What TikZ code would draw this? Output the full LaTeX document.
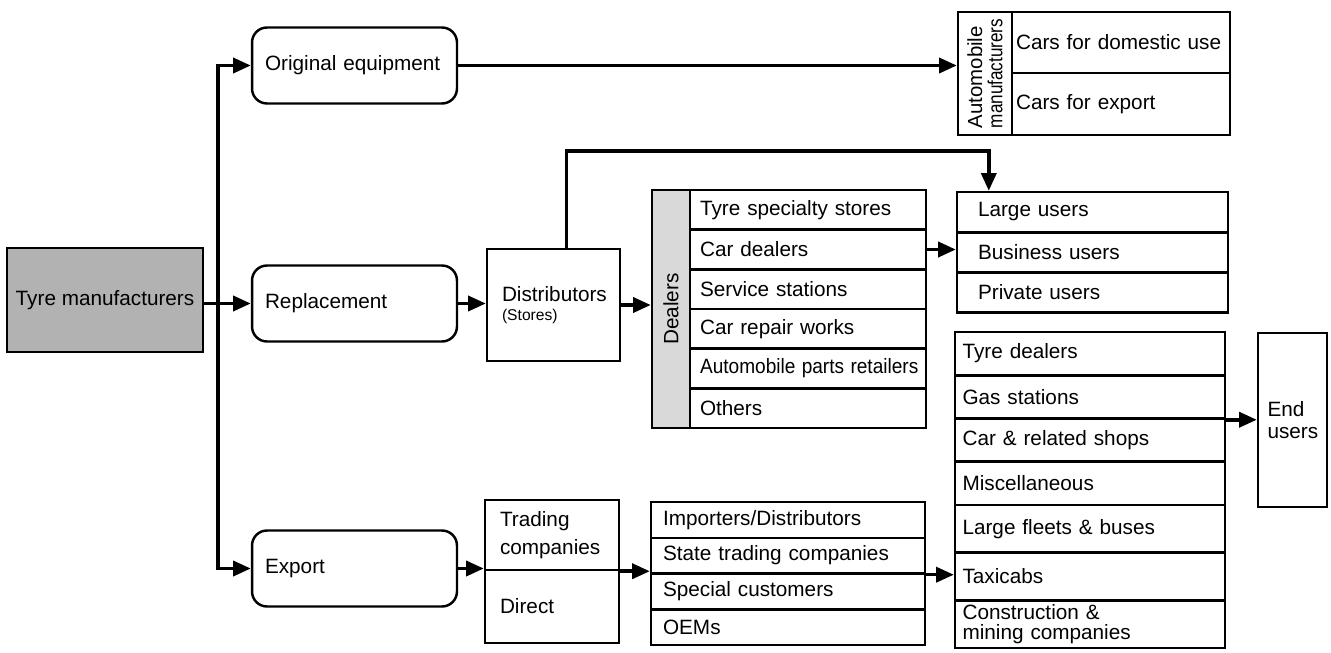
\documentclass[tikz,border=0pt]{standalone}
\usepackage{fontspec}
\setmainfont{Liberation Sans}
\usetikzlibrary{arrows.meta}

\tikzset{
  txt/.style={font=\fontsize{11.8}{13}\selectfont},
  cell/.style={draw, line width=1.4pt, txt, align=left, inner ysep=0pt},
  maker/.style={cell, fill=black!30, align=center, inner sep=0pt,
    minimum width=3.92cm, minimum height=2.08cm},
  route/.style={cell, rounded corners=0.3cm, minimum height=1.52cm,
    text width=3.58cm, inner xsep=0.26cm},
  amcell/.style={cell, minimum height=1.23cm, text width=4.2cm, inner xsep=0.08cm},
  distbox/.style={cell, minimum height=2.24cm, text width=2.06cm, inner xsep=0.3cm},
  dealer/.style={cell, minimum height=0.793cm, text width=4.32cm, inner xsep=0.2cm},
  user/.style={cell, minimum height=0.8cm, text width=4.58cm, inner xsep=0.42cm},
  shop/.style={cell, text width=5.1cm, inner xsep=0.15cm},
  trade/.style={cell, text width=2.08cm, inner xsep=0.3cm},
  import/.style={cell, minimum height=0.715cm, text width=5.0cm, inner xsep=0.24cm},
  arr/.style={line width=2pt, -{Triangle[length=10pt,width=8.5pt]}}
}

\begin{document}
\begin{tikzpicture}[x=0.02cm, y=-0.02cm]
            \useasboundingbox (0,0) rectangle (1331,652);

            % manufacturer and the three channels
            \node[maker] (tm) at (105,300) {Tyre manufacturers};
            \coordinate (fork) at (218,303.5);
            \node[route] (oe) at (354.5,65.5) {Original equipment};
            \node[route] (rep) at (354.5,303.5) {Replacement};
            \node[route] (ex) at (354.5,568.5) {Export};

            \draw[arr] (fork) |- (oe.west);
            \draw[arr] (fork) |- (ex.west);
            \draw[arr] (rep.west -| tm.east) -- (rep.west);

            % car makers
            \node[cell, rotate=90, align=left, minimum width=2.46cm, minimum height=1.08cm,
                  font=\fontsize{11.6}{11.6}\selectfont]
                  (am) at (985,73.5) {Automobile\\\scalebox{0.84}[1]{manufacturers}};
            \node[amcell, minimum width=4.36cm] (dom) at (1121,42.5) {Cars for domestic use};
            \node[amcell, minimum width=4.36cm] (cex) at (1121,104) {Cars for export};
            \draw[arr] (oe.east) -- (oe.east -| am.north);

            % replacement market
            \node[distbox, minimum width=2.66cm] (dist) at (553.5,305)
                  {Distributors\\[-2pt]{\fontsize{8.9}{10}\selectfont (Stores)}};
            \draw[arr] (rep.east) -- (rep.east -| dist.west);

            \node[cell, fill=black!15, rotate=90, minimum width=4.76cm, minimum height=0.76cm]
                  (dl) at (671,309) {Dealers};
            \node[dealer] (ts) at (808,209.8) {Tyre specialty stores};
            \node[dealer] (cd) at (808,249.5) {Car dealers};
            \node[dealer] (ss) at (808,289.2) {Service stations};
            \node[dealer] (cr) at (808,328.8) {Car repair works};
            \node[dealer] (ap) at (808,368.5) {\scalebox{0.92}[1]{Automobile parts retailers}};
            \node[dealer] (ot) at (808,408.2) {Others};
            \draw[arr] (dist.east) -- (dist.east -| dl.north);

            \node[user] (lu) at (1092.5,212) {Large users};
            \node[user] (bu) at (1092.5,252.5) {Business users};
            \node[user] (pu) at (1092.5,292.5) {Private users};
            \draw[arr] (cd.east) -- (cd.east -| bu.west);
            \draw[arr] ([xshift=0.26cm]dist.north) |- ([xshift=0.66cm,yshift=0.8cm]lu.north west)
                  -- ([xshift=0.66cm]lu.north west);

            % export market
            \node[trade, minimum height=1.4cm, font=\fontsize{11.8}{16}\selectfont]
                  (tc) at (552,535) {Trading\\companies};
            \node[trade, minimum height=1.46cm] (di) at (552,606.5) {Direct};
            \draw[arr] (ex.east) -- (ex.east -| tc.west);

            \node[import] (im) at (788,519.9) {Importers/Distributors};
            \node[import] (st) at (788,555.6) {State trading companies};
            \node[import] (sc) at (788,591.4) {Special customers};
            \node[import] (oem) at (788,627.1) {OEMs};
            \draw[arr] (tc.south east) -- (tc.south east -| im.west);

            % shops and fleets
            \node[shop, minimum height=0.865cm] (td) at (1090,353.6) {Tyre dealers};
            \node[shop, minimum height=0.865cm] (gs) at (1090,396.9) {Gas stations};
            \node[shop, minimum height=0.865cm] (rs) at (1090,440.1) {Car \& related shops};
            \node[shop, minimum height=0.865cm] (mi) at (1090,483.4) {Miscellaneous};
            \node[shop, minimum height=0.953cm] (lf) at (1090,528.8) {Large fleets \& buses};
            \node[shop, minimum height=0.953cm] (tx) at (1090,576.5) {Taxicabs};
            \node[shop, minimum height=0.953cm, font=\fontsize{11.8}{11.4}\selectfont]
                  (cm) at (1090,624.2) {Construction \&\\mining companies};
            \draw[arr] (st.south east) -- (st.south east -| tx.west);

            \node[cell, minimum width=1.38cm, minimum height=3.48cm, text width=1.0cm,
                  inner xsep=0.19cm, font=\fontsize{11.8}{12.5}\selectfont]
                  (eu) at (1292.5,420) {End\\users};
            \draw[arr] (gs.south east) -- (gs.south east -| eu.west);
        \end{tikzpicture}
\end{document}
